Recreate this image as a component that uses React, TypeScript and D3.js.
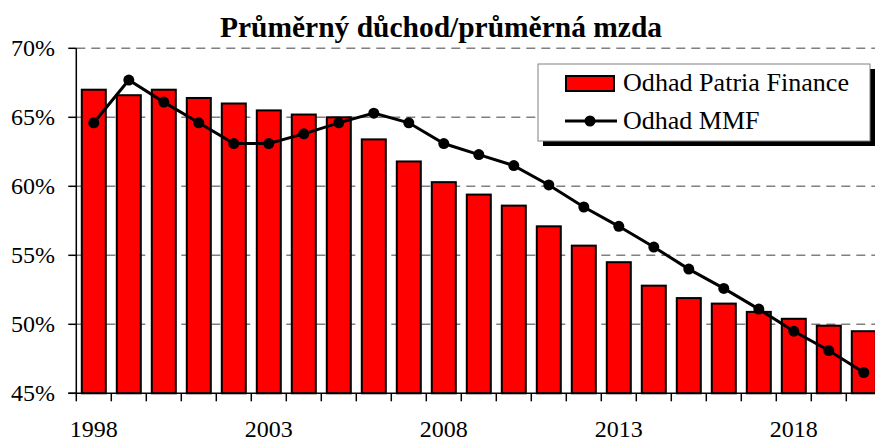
import React, { useEffect } from 'react';
import { scaleBand, scaleLinear, line } from 'd3';

const years = ['1998', '1999', '2000', '2001', '2002', '2003', '2004', '2005', '2006', '2007', '2008', '2009',
    '2010', '2011', '2012', '2013', '2014', '2015', '2016', '2017', '2018', '2019', '2020'];
const patria = [67.0, 66.6, 67.0, 66.4, 66.0, 65.5, 65.2, 65.0, 63.4, 61.8, 60.3, 59.4,
    58.6, 57.1, 55.7, 54.5, 52.8, 51.9, 51.5, 50.9, 50.4, 49.9, 49.5];
const mmf = [64.6, 67.7, 66.1, 64.6, 63.1, 63.1, 63.8, 64.6, 65.3, 64.6, 63.1, 62.3,
    61.5, 60.1, 58.5, 57.1, 55.6, 54.0, 52.6, 51.1, 49.5, 48.1, 46.5];
const yTicks = [45, 50, 55, 60, 65, 70];
const xLabels = ['1998', '2003', '2008', '2013', '2018'];
const seriesNames = ['Odhad Patria Finance', 'Odhad MMF'];
const title = 'Průměrný důchod/průměrná mzda';

const W = 875, H = 443;
const left = 76.3, right = 881.3, top = 48.3, bottom = 393.3;
const font = '"Liberation Serif", "Times New Roman", serif';

function App() {
    useEffect(() => { document.body.style.margin = '0'; }, []);

    const x = scaleBand().domain(years).range([left, right]).paddingInner(0.314).paddingOuter(0.157);
    const y = scaleLinear().domain([45, 70]).range([bottom, top]);
    const step = x.step();
    const cx = (yr) => x(yr) + x.bandwidth() / 2;

    const path = line()
        .x((d, i) => cx(years[i]))
        .y(d => y(d))(mmf);

    // category boundaries for the tick marks
    const bounds = years.map(yr => cx(yr) - step / 2);

    return (
        <svg width={W} height={H} style={{ display: 'block', background: '#fff' }} fontFamily={font}>
            <text x={441} y={37} textAnchor="middle" fontSize={30} fontWeight="bold"
                textLength={442} lengthAdjust="spacingAndGlyphs">{title}</text>

            {yTicks.filter(t => t > 45).map(t => (
                <line key={'g' + t} x1={left} x2={W} y1={y(t)} y2={y(t)}
                    stroke="#808080" strokeWidth={1.5} strokeDasharray="9,6" />
            ))}

            {patria.map((v, i) => (
                <rect key={'b' + i} x={x(years[i])} y={y(v)} width={x.bandwidth()} height={y(45) - y(v)}
                    fill="#ff0000" stroke="#000" strokeWidth={2} />
            ))}

            <line x1={left} x2={left} y1={top} y2={bottom} stroke="#000" strokeWidth={1.5} />
            <line x1={left - 8} x2={W} y1={bottom} y2={bottom} stroke="#000" strokeWidth={1.5} />
            {yTicks.map(t => (
                <g key={'y' + t}>
                    <line x1={left - 8} x2={left} y1={y(t)} y2={y(t)} stroke="#000" strokeWidth={1.5} />
                    <text x={55} y={y(t)} textAnchor="end" dominantBaseline="central" fontSize={24}>{t}%</text>
                </g>
            ))}
            {bounds.map((b, i) => (
                <line key={'t' + i} x1={b} x2={b} y1={bottom} y2={bottom + 8} stroke="#000" strokeWidth={1.5} />
            ))}
            {xLabels.map(l => (
                <text key={'x' + l} x={cx(l)} y={437} textAnchor="middle" fontSize={24}>{l}</text>
            ))}

            <path d={path} fill="none" stroke="#000" strokeWidth={3} />
            {mmf.map((v, i) => (
                <circle key={'c' + i} cx={cx(years[i])} cy={y(v)} r={5.5} fill="#000" />
            ))}

            <g>
                <rect x={543} y={69} width={332} height={77} fill="#000" />
                <rect x={538} y={64} width={332} height={77} fill="#fff" stroke="#808080" strokeWidth={1} />
                <rect x={566} y={76} width={48} height={15} fill="#ff0000" stroke="#000" strokeWidth={2} />
                <text x={623} y={91} fontSize={26} textLength={226} lengthAdjust="spacingAndGlyphs">{seriesNames[0]}</text>
                <line x1={565} x2={617} y1={121} y2={121} stroke="#000" strokeWidth={3} />
                <circle cx={590} cy={121} r={5.5} fill="#000" />
                <text x={623} y={129} fontSize={26}>{seriesNames[1]}</text>
            </g>
        </svg>
    );
}

export default App;
